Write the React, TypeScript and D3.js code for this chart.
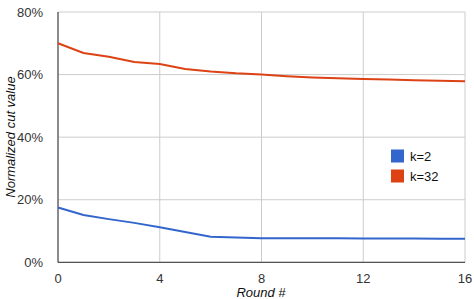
import React from "react";
import * as d3 from "d3";

const rounds = [0, 1, 2, 3, 4, 5, 6, 7, 8, 9, 10, 11, 12, 13, 14, 15, 16];
const k2 = [17.5, 15.1, 13.8, 12.6, 11.2, 9.7, 8.2, 7.9, 7.7, 7.7, 7.7, 7.7, 7.6, 7.6, 7.6, 7.5, 7.5];
const k32 = [70.0, 66.9, 65.7, 64.0, 63.4, 61.8, 61.0, 60.4, 60.0, 59.5, 59.1, 58.8, 58.6, 58.4, 58.2, 58.0, 57.9];
const xTicks = [0, 4, 8, 12, 16];
const yTicks = [0, 20, 40, 60, 80];
const seriesNames = ["k=2", "k=32"];
const colors = ["#3366cc", "#dd4214"];

export default function App() {
  const W = 474, H = 299;
  const x = d3.scaleLinear().domain([0, 16]).range([58, 465]);
  const y = d3.scaleLinear().domain([0, 80]).range([262.3, 12]);
  const line = d3.line<number>().x((_, i) => x(rounds[i])).y((d) => y(d));
  const font = "Arial, 'Liberation Sans', sans-serif";
  const series = [k2, k32];
  return (
    <svg width={W} height={H} style={{ position: "absolute", left: 0, top: 0 }} fontFamily={font}>
      {yTicks.map((t) => (
        <line key={"gy" + t} x1={58} x2={465} y1={y(t)} y2={y(t)} stroke="#cccccc" strokeWidth={1} />
      ))}
      {xTicks.map((t) => (
        <line key={"gx" + t} x1={x(t)} x2={x(t)} y1={12} y2={262.3} stroke="#cccccc" strokeWidth={1} />
      ))}
      <line x1={58} x2={58} y1={12} y2={262.3} stroke="#333" strokeWidth={1} />
      <line x1={58} x2={465} y1={262.3} y2={262.3} stroke="#333" strokeWidth={1} />
      {series.map((s, i) => (
        <path key={i} d={line(s) || ""} fill="none" stroke={colors[i]} strokeWidth={2} />
      ))}
      {yTicks.map((t) => (
        <text key={"ty" + t} x={43} y={y(t)} dy="0.35em" textAnchor="end" fontSize={13} fill="#333">
          {t + "%"}
        </text>
      ))}
      {xTicks.map((t) => (
        <text key={"tx" + t} x={x(t)} y={278} dy="0.35em" textAnchor="middle" fontSize={13} fill="#333">
          {t}
        </text>
      ))}
      <text x={261} y={292} dy="0.35em" textAnchor="middle" fontSize={13} fontStyle="italic" fill="#111">
        Round #
      </text>
      <text transform={`translate(10,137) rotate(-90)`} dy="0.35em" textAnchor="middle" fontSize={13} fontStyle="italic" fill="#111">
        Normalized cut value
      </text>
      {seriesNames.map((n, i) => (
        <g key={n}>
          <rect x={391} y={149.5 + i * 20} width={13} height={13} fill={colors[i]} />
          <text x={410} y={156 + i * 20} dy="0.35em" fontSize={13} fill="#111">
            {n}
          </text>
        </g>
      ))}
    </svg>
  );
}
